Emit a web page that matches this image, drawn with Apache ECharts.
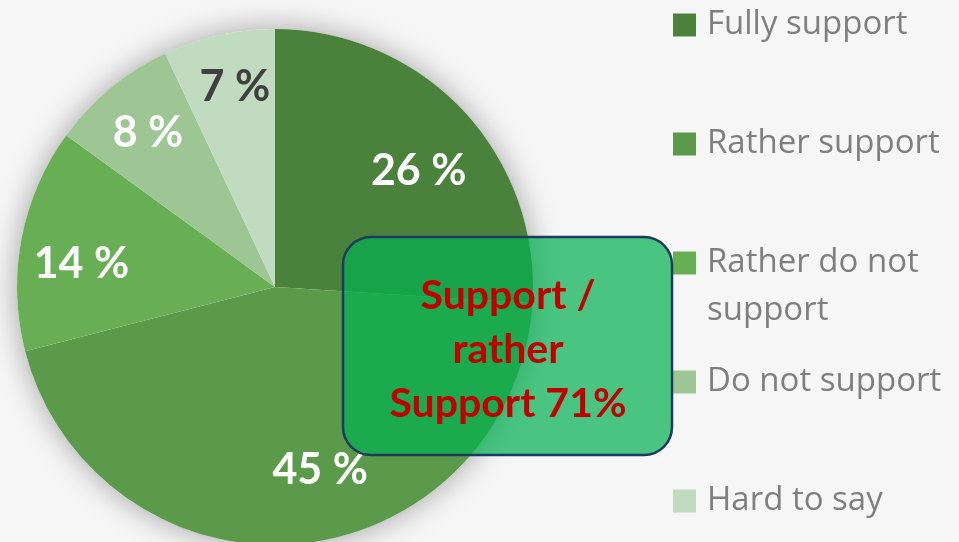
<!DOCTYPE html>
<html>
<head>
<meta charset="utf-8">
<script src="https://cdn.jsdelivr.net/npm/echarts@6/dist/echarts.min.js"></script>
<style>
  html, body { margin: 0; padding: 0; background: #f6f6f6; }
  #chart { width: 959px; height: 542px; }
</style>
</head>
<body>
<div id="chart"></div>
<script>
// survey answers, share in %
const answers = ['Fully support', 'Rather support', 'Rather do not support', 'Do not support', 'Hard to say']
const shares = [26, 45, 14, 8, 7]
const colors = ['#4a823c', '#5a9a4a', '#67ae55', '#9dc694', '#c0dbbf']
const labelColors = ['#fff', '#fff', '#fff', '#fff', '#404040']
const supportTotal = 71

// small nudges so labels sit like the original
const labelNudge = [[3, 16], [27, -9], [-4, 13], [-4, -5], [2, -12]]
// vertical centre of each legend square
const legendCenters = [25, 144, 263, 382, 501]

const font = 'Lato, "Open Sans", sans-serif'
const legendFont = '"Open Sans", Lato, sans-serif'
const center = [275, 287]
const R = 258

var chart = echarts.init(document.getElementById('chart'))

const pieData = answers.map((a, i) => ({
    name: a,
    value: shares[i],
    itemStyle: { color: colors[i] }
}))

const labelData = answers.map((a, i) => ({
    name: a,
    value: shares[i],
    label: { color: labelColors[i] }
}))

const legends = answers.map((a, i) => {
    const twoLines = a === 'Rather do not support'
    return {
        data: [a],
        left: 673,
        top: twoLines ? legendCenters[i] - 72 : legendCenters[i] - 24,
        orient: 'vertical',
        padding: 0,
        icon: 'rect',
        itemWidth: 23,
        itemHeight: 23,
        itemGap: 0,
        selectedMode: false,
        // blank first line keeps "Rather do not" level with the square
        formatter: n => twoLines ? ' \nRather do not\nsupport' : n,
        textStyle: {
            fontFamily: legendFont,
            fontSize: 33,
            color: '#7f7f7f',
            lineHeight: 48,
            padding: [0, 0, 0, 6]
        }
    }
})

let option = {
    backgroundColor: '#f6f6f6',
    animation: false,
    legend: legends,
    series: [
        {
            // soft shadow under the whole pie
            type: 'pie',
            center: center,
            radius: R,
            silent: true,
            label: { show: false },
            itemStyle: { color: '#fff', shadowBlur: 30, shadowColor: 'rgba(0,0,0,0.35)' },
            data: [{ value: 1, name: '_shadow' }],
            z: 1
        },
        {
            type: 'pie',
            center: center,
            radius: R,
            startAngle: 90,
            clockwise: true,
            label: { show: false },
            labelLine: { show: false },
            itemStyle: { borderWidth: 0 },
            data: pieData,
            z: 2
        },
        {
            // transparent ring only used to put labels further out
            type: 'pie',
            center: center,
            radius: [122, R],
            startAngle: 90,
            clockwise: true,
            silent: true,
            itemStyle: { color: 'rgba(0,0,0,0)' },
            label: {
                show: true,
                position: 'inside',
                formatter: '{c} %',
                fontFamily: font,
                fontWeight: 'bold',
                fontSize: 43
            },
            labelLayout: p => ({ dx: labelNudge[p.dataIndex][0], dy: labelNudge[p.dataIndex][1] }),
            labelLine: { show: false },
            data: labelData,
            z: 3
        }
    ],
    graphic: [
        {
            type: 'rect',
            z: 100,
            zlevel: 1,
            shape: { x: 343, y: 237, width: 329, height: 218, r: 28 },
            style: { fill: 'rgba(0,176,80,0.7)', stroke: '#1f3a5f', lineWidth: 2.5 }
        },
        {
            type: 'text',
            z: 101,
            zlevel: 1,
            x: 508,
            y: 350,
            style: {
                text: 'Support /\nrather\nSupport ' + supportTotal + '%',
                font: 'bold 41px ' + font,
                fill: '#c00000',
                align: 'center',
                verticalAlign: 'middle',
                lineHeight: 54
            }
        }
    ]
}

chart.setOption(option)
</script>
</body>
</html>
